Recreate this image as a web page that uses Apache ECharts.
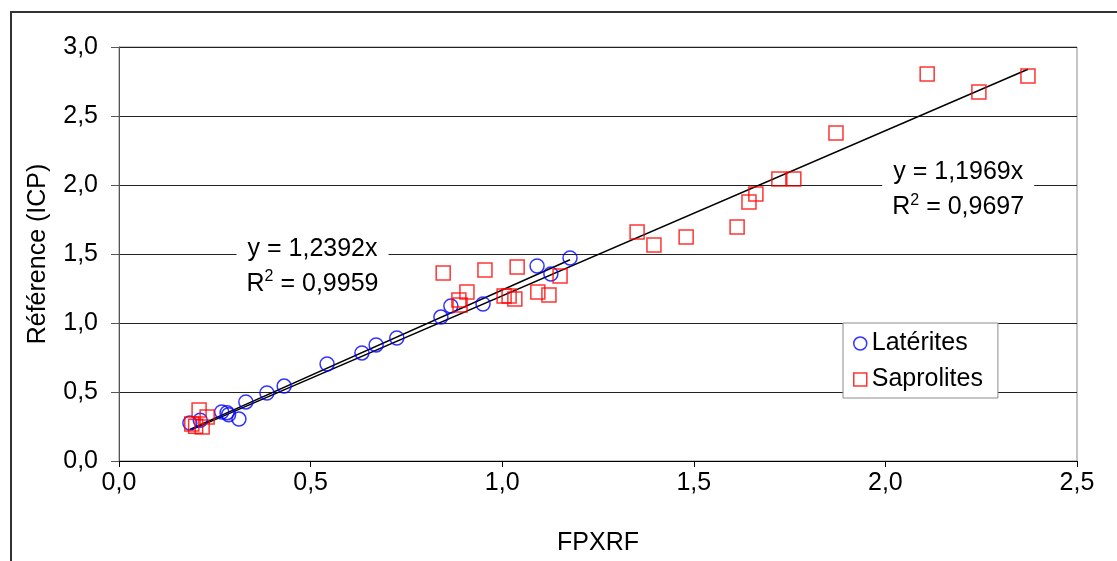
<!DOCTYPE html>
<html>
<head>
<meta charset="utf-8">
<script src="https://cdn.jsdelivr.net/npm/echarts@6/dist/echarts.min.js"></script>
<style>
  html, body { margin: 0; padding: 0; background: #fff; }
  #chart { width: 1117px; height: 561px; }
</style>
</head>
<body>
<div id="chart"></div>
<script>
// Latérites (blue circles)
const latX = [0.185, 0.212, 0.313, 0.268, 0.282, 0.286, 0.331, 0.386, 0.431, 0.543, 0.634, 0.671, 0.725, 0.840, 0.866, 0.950, 1.091, 1.127, 1.177]
const latY = [0.275, 0.295, 0.304, 0.355, 0.350, 0.335, 0.428, 0.493, 0.543, 0.703, 0.783, 0.841, 0.891, 1.043, 1.123, 1.138, 1.413, 1.355, 1.471]
// Saprolites (red squares)
const sapX = [0.190, 0.209, 0.217, 0.200, 0.230, 0.846, 0.887, 0.890, 0.908, 0.955, 1.005, 1.018, 1.033, 1.039, 1.093, 1.122, 1.151, 1.352, 1.396, 1.480, 1.613, 1.644, 1.662, 1.722, 1.761, 1.871, 2.109, 2.244, 2.372]
const sapY = [0.268, 0.370, 0.246, 0.252, 0.319, 1.362, 1.167, 1.130, 1.225, 1.384, 1.196, 1.196, 1.174, 1.406, 1.225, 1.203, 1.341, 1.659, 1.565, 1.623, 1.696, 1.877, 1.935, 2.043, 2.043, 2.377, 2.804, 2.674, 2.790]
// trendlines through origin
const latSlope = 1.2392
const latR2 = '0,9959'
const sapSlope = 1.1969
const sapR2 = '0,9697'
// where the equation labels sit (data units)
const latLabelAt = [0.505, 1.41]
const sapLabelAt = [2.19, 1.965]

const FONT = '"Liberation Sans", Arial, Helvetica, sans-serif'
const FS = 25
const fmt = v => v.toFixed(1).replace('.', ',')
const zip = (xs, ys) => xs.map((x, i) => [x, ys[i]])

function trend (xs, k) {
  const lo = Math.min(...xs)
  const hi = Math.max(...xs)
  return [[lo, lo * k], [hi, hi * k]]
}

function eqLabel (k, r2) {
  return '{a|y = ' + k.toFixed(4).replace('.', ',') + 'x}\n{a|R}{s|2}{a| = ' + r2 + '}'
}

const labelRich = {
  a: { fontFamily: FONT, fontSize: FS, color: '#000', lineHeight: 35 },
  s: { fontFamily: FONT, fontSize: 16, color: '#000', padding: [0, 0, 14, 0] }
}

function eqMark (at, k, r2) {
  return {
    symbol: 'rect',
    symbolSize: [152, 64],
    silent: true,
    itemStyle: { color: '#fff' },
    label: { show: true, position: 'inside', formatter: eqLabel(k, r2), rich: labelRich },
    data: [{ coord: at }]
  }
}

const chart = echarts.init(document.getElementById('chart'))
chart.setOption({
  animation: false,
  backgroundColor: '#fff',
  textStyle: { fontFamily: FONT },
  graphic: [{
    type: 'rect',
    shape: { x: 11, y: 12, width: 1200, height: 700 },
    style: { fill: 'none', stroke: '#333', lineWidth: 2 },
    silent: true
  }],
  grid: {
    left: 119, right: 40, top: 47, bottom: 100,
    show: true, borderColor: '#8c8c8c', borderWidth: 1
  },
  xAxis: {
    type: 'value', min: 0, max: 2.5, interval: 0.5,
    name: 'FPXRF', nameLocation: 'middle', nameGap: 70,
    nameTextStyle: { fontSize: FS, color: '#000', fontFamily: FONT },
    axisLine: { lineStyle: { color: '#000', width: 1 } },
    axisTick: { show: true, length: 6, lineStyle: { color: '#000' } },
    axisLabel: { formatter: fmt, fontSize: FS, color: '#000', margin: 10, fontFamily: FONT },
    splitLine: { show: false }
  },
  yAxis: {
    type: 'value', min: 0, max: 3, interval: 0.5,
    name: 'Référence (ICP)', nameLocation: 'middle', nameGap: 68,
    nameTextStyle: { fontSize: FS, color: '#000', fontFamily: FONT },
    axisLine: { show: true, lineStyle: { color: '#555', width: 1 } },
    axisTick: { show: true, length: 8, lineStyle: { color: '#555' } },
    axisLabel: { formatter: fmt, fontSize: FS, color: '#000', margin: 21, fontFamily: FONT },
    splitLine: { show: true, lineStyle: { color: '#222', width: 1 } }
  },
  legend: {
    orient: 'vertical', left: 843, top: 323,
    padding: [8, 15, 6, 10], itemGap: 11,
    itemWidth: 13, itemHeight: 13,
    backgroundColor: '#fff', borderColor: '#8c8c8c', borderWidth: 1,
    textStyle: { fontSize: FS, color: '#000', fontFamily: FONT },
    data: [
      { name: 'Latérites', icon: 'circle', itemStyle: { color: 'rgba(0,0,0,0)', borderColor: '#0000ff', borderWidth: 1.5 } },
      { name: 'Saprolites', icon: 'rect', itemStyle: { color: 'rgba(0,0,0,0)', borderColor: '#ff0000', borderWidth: 1.5 } }
    ]
  },
  series: [
    {
      name: 'lat-trend', type: 'line', data: trend(latX, latSlope),
      symbol: 'none', lineStyle: { color: '#000', width: 1.5 }, z: 3,
      markPoint: eqMark(latLabelAt, latSlope, latR2)
    },
    {
      name: 'sap-trend', type: 'line', data: trend(sapX, sapSlope),
      symbol: 'none', lineStyle: { color: '#000', width: 1.5 }, z: 3,
      markPoint: eqMark(sapLabelAt, sapSlope, sapR2)
    },
    {
      name: 'Latérites', type: 'scatter', data: zip(latX, latY),
      symbol: 'circle', symbolSize: 14, z: 4,
      itemStyle: { color: 'rgba(0,0,0,0)', borderColor: '#0000ff', borderWidth: 1.5 }
    },
    {
      name: 'Saprolites', type: 'scatter', data: zip(sapX, sapY),
      symbol: 'rect', symbolSize: 14, z: 4,
      itemStyle: { color: 'rgba(0,0,0,0)', borderColor: '#ff0000', borderWidth: 1.5 }
    }
  ]
})
</script>
</body>
</html>
